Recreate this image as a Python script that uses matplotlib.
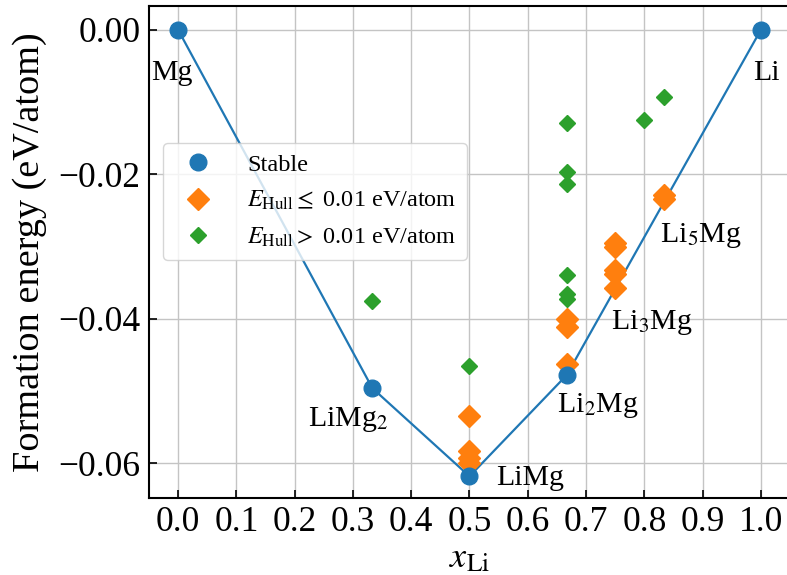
import matplotlib
matplotlib.use("Agg")
import matplotlib.pyplot as plt

plt.rcParams["font.family"] = ["Liberation Serif", "DejaVu Serif"]
plt.rcParams["mathtext.fontset"] = "stix"

# Stable phases (convex hull vertices)
stable_x = [0.0, 1/3, 0.5, 2/3, 1.0]
stable_y = [0.0, -0.0496, -0.0618, -0.0478, 0.0]
stable_names = ["Mg", r"LiMg$_2$", "LiMg", r"Li$_2$Mg", "Li"]

# Near-hull structures (E_Hull <= 0.01 eV/atom)
near_x = [0.5, 0.5, 0.5, 0.5,
          2/3, 2/3, 2/3,
          0.75, 0.75, 0.75, 0.75, 0.75,
          5/6, 5/6]
near_y = [-0.0534, -0.0583, -0.0592, -0.0599,
          -0.0400, -0.0412, -0.0463,
          -0.0295, -0.0301, -0.0333, -0.0338, -0.0357,
          -0.0229, -0.0234]

# Off-hull structures (E_Hull > 0.01 eV/atom)
far_x = [1/3, 0.5, 2/3, 2/3, 2/3, 2/3, 2/3, 2/3, 0.8, 5/6]
far_y = [-0.0375, -0.0465, -0.0129, -0.0197, -0.0214,
         -0.0339, -0.0365, -0.0372, -0.0125, -0.0093]

# Extra phase labels
extra_names = [r"Li$_3$Mg", r"Li$_5$Mg"]
extra_x = [0.75, 5/6]
extra_y = [-0.0338, -0.0229]

xticks = [0.0, 0.1, 0.2, 0.3, 0.4, 0.5, 0.6, 0.7, 0.8, 0.9, 1.0]
yticks = [0.00, -0.02, -0.04, -0.06]

fig = plt.figure(figsize=(7.87, 5.75), dpi=100)
ax = fig.add_axes([149/787, 77/575, (790-149)/787, (498-6)/575])

ax.plot(stable_x, stable_y, "-", color="C0", lw=1.6, zorder=2)
ax.plot(stable_x, stable_y, "o", color="C0", ms=12, ls="none",
        label="Stable", zorder=4)
ax.plot(near_x, near_y, "D", color="C1", ms=11.5, ls="none",
        label=r"$E_{\rm Hull} \leq$ 0.01 eV/atom", zorder=3)
ax.plot(far_x, far_y, "D", color="C2", ms=8.5, ls="none",
        label=r"$E_{\rm Hull} >$ 0.01 eV/atom", zorder=3)

lab_fs = 21.5
ax.text(stable_x[0] - 0.046, stable_y[0] - 0.0060, stable_names[0],
        fontsize=lab_fs, ha="left", va="center")
ax.text(stable_x[1] - 0.041, stable_y[1] - 0.0044, stable_names[1],
        fontsize=lab_fs, ha="center", va="center")
ax.text(stable_x[2] + 0.045, stable_y[2] - 0.0003, stable_names[2],
        fontsize=lab_fs, ha="left", va="center")
ax.text(stable_x[3] - 0.016, stable_y[3] - 0.0042, stable_names[3],
        fontsize=lab_fs, ha="left", va="center")
ax.text(stable_x[4] + 0.010, stable_y[4] - 0.0060, stable_names[4],
        fontsize=lab_fs, ha="center", va="center")
ax.text(extra_x[0] - 0.0065, extra_y[0] - 0.0067, extra_names[0],
        fontsize=lab_fs, ha="left", va="center")
ax.text(extra_x[1] - 0.007, extra_y[1] - 0.0055, extra_names[1],
        fontsize=lab_fs, ha="left", va="center")

ax.set_xticks(xticks)
ax.set_yticks(yticks)
ax.set_xticklabels([f"{v:.1f}" for v in xticks])
ax.set_yticklabels([f"{v:.2f}".replace("-", "\u2212") for v in yticks])
ax.tick_params(direction="in", labelsize=25.5, length=6, width=1.2, pad=6)
ax.grid(True, color="#c4c4c4", lw=1.0)
ax.set_axisbelow(True)
for s in ax.spines.values():
    s.set_linewidth(1.5)

ax.set_xlim(-0.05, 1.05)
ax.set_ylim(-0.0648, 0.0033)

ax.set_xlabel(r"$x_{\rm Li}$", fontsize=26, labelpad=2)
ax.set_ylabel("Formation energy (eV/atom)", fontsize=27.5, labelpad=8)

ax.legend(loc="upper left", bbox_to_anchor=(0.022, 0.722), fontsize=17.5,
          borderaxespad=0, borderpad=0.45, labelspacing=0.55,
          handletextpad=1.0, framealpha=0.8)

fig.savefig("out.png", dpi=100)
